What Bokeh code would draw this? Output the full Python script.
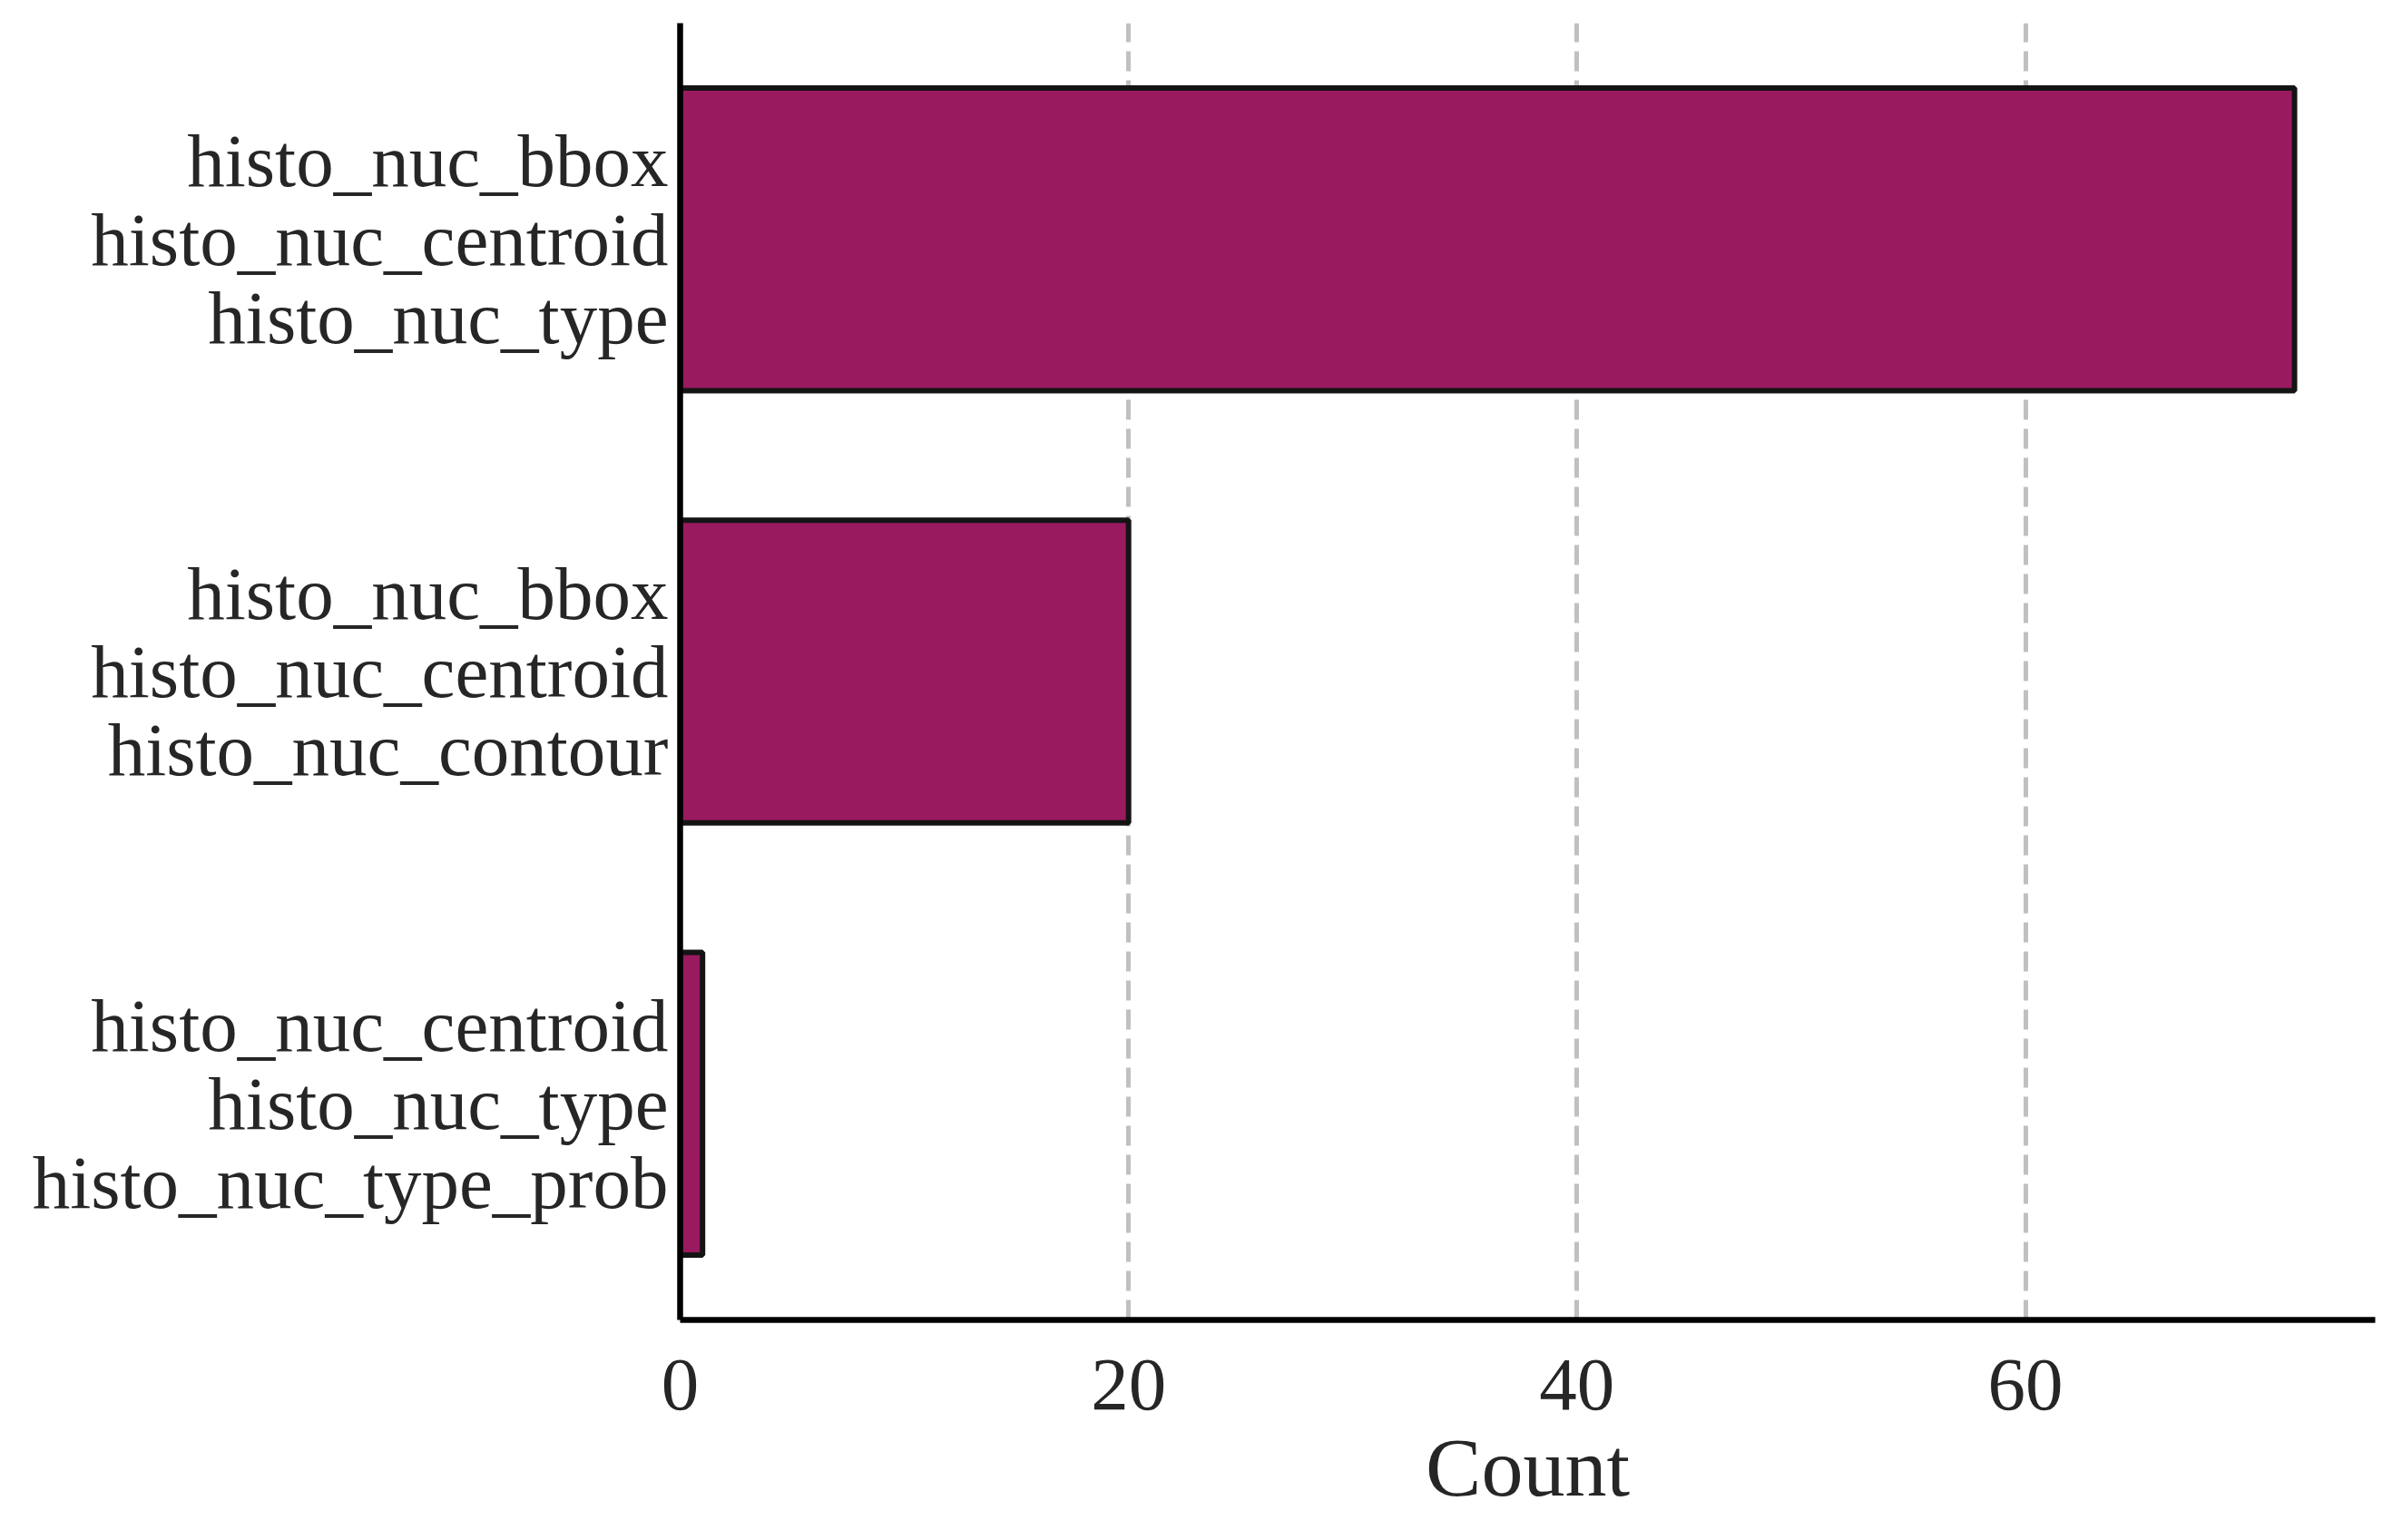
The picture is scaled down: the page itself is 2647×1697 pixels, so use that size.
from bokeh.plotting import figure
from bokeh.models import FactorRange, Range1d, FixedTicker
from bokeh.embed import file_html
from bokeh.resources import INLINE

categories = [
    "histo_nuc_bbox\nhisto_nuc_centroid\nhisto_nuc_type",
    "histo_nuc_bbox\nhisto_nuc_centroid\nhisto_nuc_contour",
    "histo_nuc_centroid\nhisto_nuc_type\nhisto_nuc_type_prob",
]
counts = [72, 20, 1]
x_ticks = [0, 20, 40, 60]

FONT = "Liberation Serif"
TEXT = "#262626"

p = figure(
    width=2630, height=1680,
    y_range=FactorRange(factors=list(reversed(categories))),
    x_range=Range1d(0, 75.6),
    output_backend="svg", toolbar_location=None,
    min_border_left=749, min_border_top=25, min_border_right=13, min_border_bottom=226,
)
p.outline_line_color = None
p.background_fill_color = "white"
p.border_fill_color = "white"

p.hbar(y=categories, right=counts, left=0, height=0.7,
       fill_color="#9a1a60", line_color="#141414", line_width=6)

# x axis
p.xaxis.ticker = FixedTicker(ticks=x_ticks)
p.xaxis.axis_label = "Count"
p.xaxis.axis_label_text_font = FONT
p.xaxis.axis_label_text_font_style = "normal"
p.xaxis.axis_label_text_font_size = "92px"
p.xaxis.axis_label_text_color = TEXT
p.xaxis.axis_label_standoff = 10
p.xaxis.major_label_text_font = FONT
p.xaxis.major_label_text_font_size = "83px"
p.xaxis.major_label_text_color = TEXT
p.xaxis.major_label_standoff = 38
p.xaxis.major_tick_line_color = None
p.xaxis.minor_tick_line_color = None
p.xaxis.axis_line_color = "black"
p.xaxis.axis_line_width = 6.5

# y axis
p.yaxis.major_label_text_font = FONT
p.yaxis.major_label_text_font_size = "83px"
p.yaxis.major_label_text_color = TEXT
p.yaxis.major_label_text_line_height = 0.94
p.yaxis.major_label_standoff = 7
p.yaxis.major_tick_line_color = None
p.yaxis.minor_tick_line_color = None
p.yaxis.axis_line_color = "black"
p.yaxis.axis_line_width = 6.5

# grid
p.ygrid.grid_line_color = None
p.xgrid.grid_line_color = "#c0c0c0"
p.xgrid.grid_line_width = 5
p.xgrid.grid_line_dash = "22 10"

open("out.html", "w").write(file_html(p, INLINE))
